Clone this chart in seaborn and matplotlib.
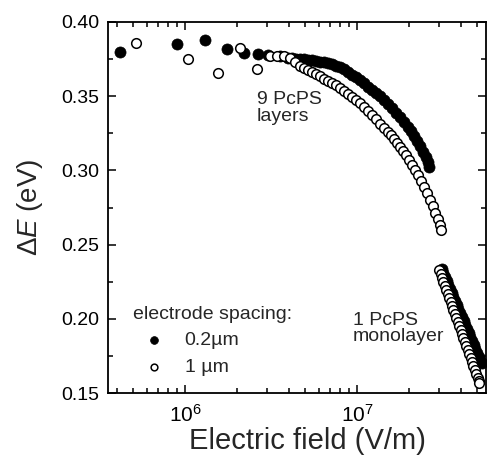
import matplotlib
matplotlib.use("Agg")
import matplotlib.pyplot as plt
import numpy as np
import pandas as pd
import seaborn as sns
from matplotlib.ticker import MultipleLocator, LogLocator, NullFormatter, FormatStrFormatter

# ---------------- data ----------------
# electrode spacing 0.2 um (filled), 9 PcPS layers
field_02_layers = [4.17e5, 8.95e5, 1.307e6, 1.748e6, 2.212e6, 2.647e6, 3.05e6, 3.567e6,
                   3.97e6, 4.19e6, 4.42e6, 4.66e6, 4.92e6, 5.19e6, 5.47e6, 5.78e6, 6.09e6,
                   6.43e6, 6.78e6, 7.15e6, 7.55e6, 7.96e6, 8.40e6, 8.87e6, 9.35e6, 9.87e6,
                   1.041e7, 1.098e7, 1.159e7, 1.223e7, 1.290e7, 1.361e7, 1.435e7, 1.514e7,
                   1.597e7, 1.686e7, 1.778e7, 1.876e7, 1.979e7, 2.061e7, 2.145e7, 2.233e7,
                   2.324e7, 2.419e7, 2.502e7, 2.570e7, 2.605e7]
dE_02_layers = [0.3795, 0.3849, 0.3878, 0.3820, 0.3789, 0.3786, 0.3779, 0.3770,
                0.3760, 0.3757, 0.3753, 0.3750, 0.3750, 0.3747, 0.3743, 0.3740, 0.3733,
                0.3730, 0.3723, 0.3716, 0.3706, 0.3699, 0.3686, 0.3666, 0.3645, 0.3628,
                0.3608, 0.3588, 0.3564, 0.3544, 0.3524, 0.3500, 0.3476, 0.3449,
                0.3419, 0.3389, 0.3358, 0.3324, 0.3291, 0.3264, 0.3233, 0.3199,
                0.3162, 0.3125, 0.3091, 0.3057, 0.3024]

# electrode spacing 1 um (open), 9 PcPS layers
field_1_layers = [5.19e5, 1.045e6, 1.56e6, 2.09e6, 2.62e6, 3.12e6, 3.43e6, 3.76e6, 4.08e6,
                  4.36e6, 4.66e6, 4.92e6, 5.19e6, 5.47e6, 5.78e6, 6.09e6, 6.43e6, 6.78e6,
                  7.15e6, 7.55e6, 7.96e6, 8.40e6, 8.87e6, 9.35e6, 9.87e6, 1.041e7, 1.098e7,
                  1.159e7, 1.223e7, 1.290e7, 1.361e7, 1.435e7, 1.514e7, 1.576e7, 1.641e7,
                  1.709e7, 1.778e7, 1.851e7, 1.927e7, 2.006e7, 2.088e7, 2.174e7, 2.263e7,
                  2.356e7, 2.452e7, 2.553e7, 2.658e7, 2.748e7, 2.842e7, 2.938e7, 3.018e7,
                  3.079e7]
dE_1_layers = [0.3856, 0.3750, 0.3655, 0.3826, 0.3684, 0.3774, 0.3774, 0.3770, 0.3760,
               0.3733, 0.3706, 0.3693, 0.3679, 0.3666, 0.3652, 0.3635, 0.3618, 0.3605,
               0.3591, 0.3578, 0.3557, 0.3537, 0.3517, 0.3493, 0.3473, 0.3453, 0.3429,
               0.3402, 0.3372, 0.3345, 0.3314, 0.3287, 0.3260, 0.3236, 0.3209,
               0.3186, 0.3159, 0.3132, 0.3101, 0.3071, 0.3037, 0.3003, 0.2966,
               0.2926, 0.2885, 0.2845, 0.2801, 0.2760, 0.2716, 0.2672, 0.2635,
               0.2601]

# electrode spacing 0.2 um (filled), 1 PcPS monolayer
field_02_mono = [3.099e7, 3.171e7, 3.243e7, 3.318e7, 3.395e7, 3.473e7, 3.553e7, 3.635e7,
                 3.714e7, 3.800e7, 3.887e7, 3.976e7, 4.068e7, 4.161e7, 4.257e7, 4.355e7,
                 4.455e7, 4.558e7, 4.663e7, 4.770e7, 4.880e7, 4.992e7, 5.107e7, 5.218e7,
                 5.296e7]
dE_02_mono = [0.2338, 0.2311, 0.2284, 0.2257, 0.2230, 0.2203, 0.2176, 0.2149,
              0.2122, 0.2095, 0.2068, 0.2041, 0.2014, 0.1986, 0.1959, 0.1932,
              0.1905, 0.1878, 0.1851, 0.1824, 0.1797, 0.1770, 0.1743, 0.1716,
              0.1699]

# electrode spacing 1 um (open), 1 PcPS monolayer
field_1_mono = [3.010e7, 3.062e7, 3.120e7, 3.179e7, 3.243e7, 3.305e7, 3.367e7, 3.431e7,
                3.496e7, 3.567e7, 3.635e7, 3.704e7, 3.774e7, 3.850e7, 3.923e7, 3.997e7,
                4.073e7, 4.150e7, 4.234e7, 4.314e7, 4.395e7, 4.479e7, 4.570e7, 4.656e7,
                4.745e7, 4.834e7, 4.925e7, 5.025e7, 5.106e7, 5.141e7]
dE_1_mono = [0.2329, 0.2304, 0.2277, 0.2250, 0.2223, 0.2196, 0.2169, 0.2142,
             0.2115, 0.2088, 0.2061, 0.2034, 0.2007, 0.1980, 0.1953, 0.1926,
             0.1899, 0.1872, 0.1845, 0.1818, 0.1791, 0.1764, 0.1736, 0.1709,
             0.1682, 0.1655, 0.1628, 0.1601, 0.1578, 0.1568]

spacing_labels = ["0.2\u00b5m", "1 \u00b5m"]
x_ticks = [1e6, 1e7]
y_ticks = [0.15, 0.20, 0.25, 0.30, 0.35, 0.40]

df = pd.concat([
    pd.DataFrame({"field": field_02_layers, "dE": dE_02_layers, "spacing": spacing_labels[0]}),
    pd.DataFrame({"field": field_02_mono, "dE": dE_02_mono, "spacing": spacing_labels[0]}),
    pd.DataFrame({"field": field_1_layers, "dE": dE_1_layers, "spacing": spacing_labels[1]}),
    pd.DataFrame({"field": field_1_mono, "dE": dE_1_mono, "spacing": spacing_labels[1]}),
], ignore_index=True)

# ---------------- style ----------------
sns.set_style("ticks")
plt.rcParams["font.family"] = ["Liberation Sans", "DejaVu Sans"]
plt.rcParams["mathtext.fontset"] = "custom"
plt.rcParams["mathtext.rm"] = "Liberation Sans"
plt.rcParams["mathtext.it"] = "Liberation Sans:italic"
plt.rcParams["mathtext.bf"] = "Liberation Sans:bold"

W, H = 488, 455
fig = plt.figure(figsize=(W / 100, H / 100), dpi=100)
L, R, T, B = 108, 486, 22, 393
ax = fig.add_axes([L / W, 1 - B / H, (R - L) / W, (B - T) / H])
ax.set_xscale("log")
ax.set_xlim(3.565e5, 5.62e7)
ax.set_ylim(0.15, 0.40)

sub = df[df["spacing"] == spacing_labels[0]]
sns.scatterplot(data=sub, x="field", y="dE", ax=ax, color="black", edgecolor="black",
                s=64, linewidth=0.5, marker="o", label=spacing_labels[0], zorder=3)
sub = df[df["spacing"] == spacing_labels[1]]
sns.scatterplot(data=sub, x="field", y="dE", ax=ax, color="white", edgecolor="black",
                s=48, linewidth=1.1, marker="o", label=spacing_labels[1], zorder=4)

# ticks
ax.xaxis.set_major_locator(LogLocator(base=10))
ax.xaxis.set_minor_locator(LogLocator(base=10, subs=np.arange(2, 10)))
ax.xaxis.set_minor_formatter(NullFormatter())
ax.set_xticks(x_ticks)
ax.yaxis.set_major_locator(MultipleLocator(0.05))
ax.yaxis.set_minor_locator(MultipleLocator(0.025))
ax.yaxis.set_major_formatter(FormatStrFormatter("%.2f"))
ax.set_yticks(y_ticks)
ax.tick_params(which="both", direction="in", top=True, right=True, width=1.1,
               colors="black", labelsize=14)
ax.tick_params(which="major", length=6, pad=6)
ax.tick_params(which="minor", length=3.5)
ax.tick_params(axis="x", which="major", pad=8, labelsize=15)
for s in ax.spines.values():
    s.set_linewidth(1.3)
    s.set_color("black")

ax.set_xlabel("Electric field (V/m)", fontsize=21)
ax.set_ylabel("\u0394$E$ (eV)", fontsize=20)
ax.xaxis.set_label_coords((307 - L) / (R - L), -(441 - B) / (B - T))
ax.yaxis.set_label_coords(-(108 - 30) / (R - L), 0.5)
ax.xaxis.label.set_va("center")
ax.yaxis.label.set_va("center")

# annotations
ax.text((257 - L) / (R - L), (B - 91) / (B - T), "9 PcPS\nlayers", transform=ax.transAxes,
        fontsize=14, ha="left", va="top", linespacing=1.0)
ax.text((353 - L) / (R - L), (B - 312) / (B - T), "1 PcPS\nmonolayer", transform=ax.transAxes,
        fontsize=14, ha="left", va="top", linespacing=0.95)

handles, labels = ax.get_legend_handles_labels()
leg = ax.legend(handles, labels, title="electrode spacing:", loc="upper left",
                bbox_to_anchor=((133 - L) / (R - L), (B - 306) / (B - T)),
                frameon=False, borderpad=0, fontsize=14, title_fontsize=14,
                handlelength=2.2, handletextpad=0.45, labelspacing=0.45,
                markerscale=0.7, alignment="left", borderaxespad=0)

fig.savefig("out.png", dpi=100)
